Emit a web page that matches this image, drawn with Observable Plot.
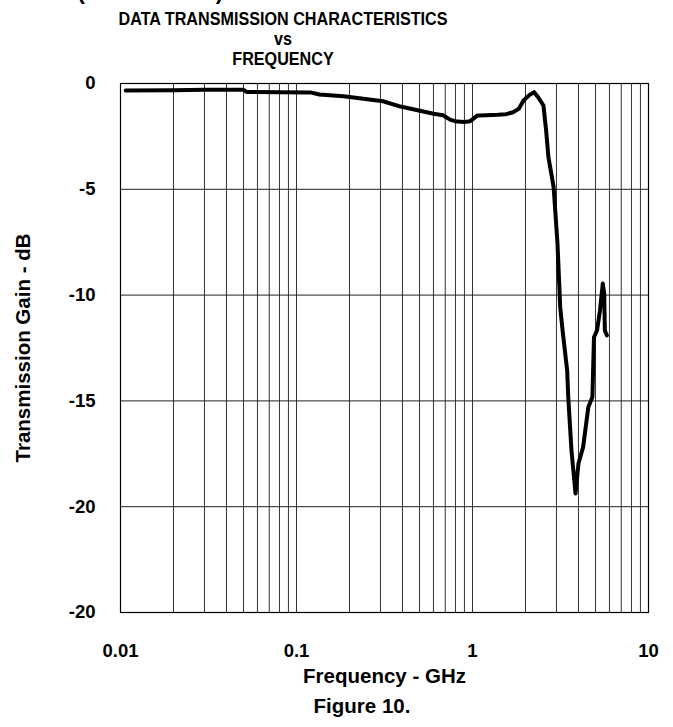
<!DOCTYPE html>
<html>
<head>
<meta charset="utf-8">
<script src="https://cdn.jsdelivr.net/npm/d3@7"></script>
<script src="https://cdn.jsdelivr.net/npm/@observablehq/plot@0.6"></script>
<style>
  html, body { margin: 0; padding: 0; background: white; }
  body { position: relative; width: 673px; height: 727px; overflow: hidden; font-family: "Liberation Sans", Arial, sans-serif; color: black; }
  .t { position: absolute; white-space: nowrap; font-weight: bold; line-height: 1; }
  #chart { position: absolute; left: 0; top: 70px; }
</style>
</head>
<body>
<div class="t" id="cut" style="right:450px; top:-19.5px; font-size:22px;">TYPICAL PERFORMANCE CHARACTERISTICS (CONTINUED)</div>
<div class="t" id="l1" style="left:0; width:566px; text-align:center; top:8.9px; font-size:19px; transform:scaleX(0.85);">DATA TRANSMISSION CHARACTERISTICS</div>
<div class="t" id="l2" style="left:0; width:566px; text-align:center; top:28.9px; font-size:19px; transform:scaleX(0.85);">vs</div>
<div class="t" id="l3" style="left:0; width:566px; text-align:center; top:48.9px; font-size:19px; transform:scaleX(0.85);">FREQUENCY</div>
<div id="chart"></div>
<div class="t" id="fig" style="left:262px; width:200px; text-align:center; top:696px; font-size:20.5px;">Figure 10.</div>
<script>
// Frequency (GHz) and transmission gain (dB)
const freq = [0.0107, 0.02, 0.03, 0.05, 0.052, 0.08, 0.12, 0.135, 0.185, 0.24, 0.31, 0.39, 0.51, 0.60, 0.68, 0.75, 0.82, 0.9, 0.97, 1.07, 1.2, 1.39, 1.55, 1.70, 1.83, 1.95, 2.1, 2.24, 2.36, 2.53, 2.62, 2.7, 2.89, 3.04, 3.15, 3.25, 3.45, 3.5, 3.65, 3.85, 4.0, 4.25, 4.55, 4.8, 4.9, 5.1, 5.3, 5.5, 5.6, 5.65, 5.8];
const gain = [-0.33, -0.32, -0.3, -0.3, -0.4, -0.41, -0.42, -0.52, -0.6, -0.72, -0.84, -1.09, -1.3, -1.43, -1.5, -1.72, -1.8, -1.82, -1.78, -1.51, -1.5, -1.48, -1.45, -1.36, -1.2, -0.8, -0.55, -0.41, -0.65, -1.04, -2.22, -3.48, -4.9, -7.56, -10.57, -11.67, -13.56, -14.82, -17.34, -19.38, -17.96, -17.19, -15.3, -14.82, -11.99, -11.67, -10.73, -9.45, -9.92, -11.67, -11.9];

// Axis ticks and labels (as printed on the reference)
const xTicks = [0.01, 0.1, 1, 10];
const xTickLabels = ["0.01", "0.1", "1", "10"];
const yTicks = [0, -5, -10, -15, -20, -25];
const yTickLabels = ["0", "-5", "-10", "-15", "-20", "-20"];
const decades = [0.01, 0.1, 1];
const multiples = [1, 2, 3, 4, 5, 6, 7, 8, 9];

const data = freq.map((f, i) => ({f, g: gain[i]}));
const gridX = decades.flatMap(d => multiples.map(m => d * m)).concat([10]);

const chart = Plot.plot({
  width: 673,
  height: 630,
  marginLeft: 120,
  marginRight: 25,
  marginTop: 13,
  marginBottom: 88,
  style: {fontFamily: "'Liberation Sans', Arial, sans-serif", fontSize: "18.5px", fontWeight: "bold", background: "white", color: "black", overflow: "visible"},
  x: {type: "log", domain: [0.01, 10], ticks: xTicks, tickFormat: d => xTickLabels[xTicks.findIndex(t => Math.abs(t - d) < 1e-9)],
      tickSize: 0, tickPadding: 31, label: "Frequency - GHz", labelAnchor: "center", labelOffset: 70, labelArrow: "none"},
  y: {domain: [-25, 0], ticks: yTicks, tickFormat: d => yTickLabels[yTicks.indexOf(d)],
      tickSize: 0, tickPadding: 25, label: "Transmission Gain - dB", labelAnchor: "center", labelOffset: 105, labelArrow: "none"},
  marks: [
    Plot.ruleX(gridX, {stroke: "#333", strokeWidth: 1}),
    Plot.ruleY(yTicks, {stroke: "#222", strokeWidth: 1}),
    Plot.frame({stroke: "black", strokeWidth: 1.2}),
    Plot.line(data, {x: "f", y: "g", stroke: "black", strokeWidth: 4, strokeLinejoin: "round", strokeLinecap: "round"})
  ]
});
chart.querySelectorAll("g[aria-label='x-axis label'] text, g[aria-label='y-axis label'] text").forEach(t => t.setAttribute("font-size", "20.5px"));
document.getElementById("chart").appendChild(chart);
</script>
</body>
</html>
